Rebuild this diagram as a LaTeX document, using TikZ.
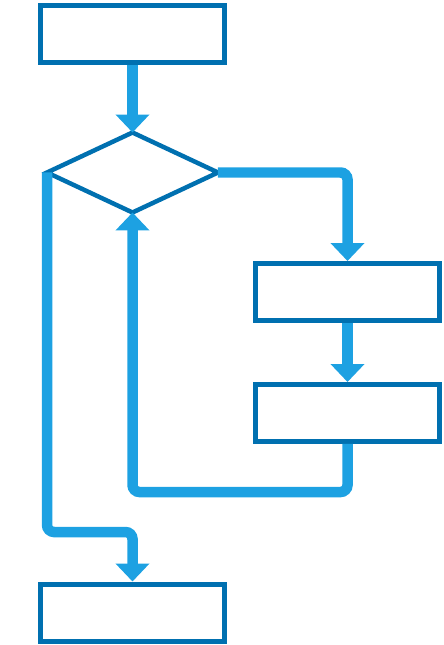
\documentclass[tikz,border=0pt]{standalone}
\usepackage{tikz}
\usetikzlibrary{arrows.meta, positioning, shapes.geometric}
\definecolor{boxblue}{RGB}{0,112,176}
\definecolor{flowblue}{RGB}{29,161,226}

\tikzset{
  stepbox/.style={draw=boxblue, line width=0.1cm, minimum width=3.7cm, minimum height=1.14cm, inner sep=0pt},
  decision/.style={diamond, draw=boxblue, line width=0.09cm, minimum width=3.42cm, minimum height=1.6cm, inner sep=0pt, outer sep=0pt},
  flow/.style={draw=flowblue, line width=0.21cm, rounded corners=0.14cm, -{Triangle[width=0.66cm, length=0.36cm]}}
}

\begin{document}
\begin{tikzpicture}[x=0.02cm, y=-0.02cm]
    \useasboundingbox (0,0) rectangle (443,645);
    % boxes
    \node[stepbox] (start) at (132.5,34) {};
    \node[decision] (dec) at (132.5,172.5) {};
    \node[stepbox] (bodya) at (347.5,292) {};
    \node[stepbox] (bodyb) at (347.5,413) {};
    \node[stepbox] (stop) at (132.5,612.5) {};
    % bends
    \coordinate (loopy) at (0,492);
    \coordinate (exity) at (0,532);
    % connectors
    \draw[flow] (start.south) -- (dec.north);
    \draw[flow] (dec.east) -| (bodya.north);
    \draw[flow] (bodya.south) -- (bodyb.north);
    \draw[flow] (bodyb.south) |- (dec.south |- loopy) -- (dec.south);
    \draw[flow] (dec.west) -- (dec.west |- exity) -| (stop.north);
\end{tikzpicture}
\end{document}
